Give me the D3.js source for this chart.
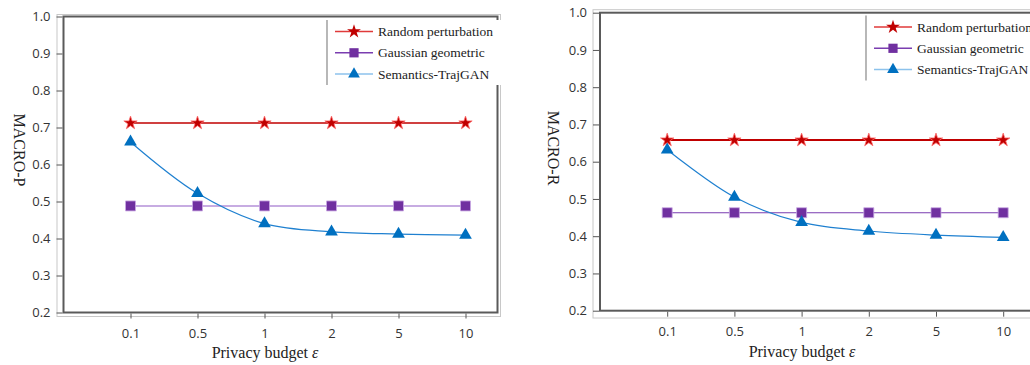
<!DOCTYPE html>
<html>
<head>
<meta charset="utf-8">
<script src="https://cdn.jsdelivr.net/npm/d3@7"></script>
<style>
  body { margin: 0; background: #fff; }
  .tick text { font-family: "Open Sans", "Noto Sans", sans-serif; font-size: 13px; fill: #333; }
</style>
</head>
<body>
<div id="chart"></div>
<script>
// categories (privacy budget)
const budgets = ["0.1", "0.5", "1", "2", "5", "10"];
const yTicks = [0.2, 0.3, 0.4, 0.5, 0.6, 0.7, 0.8, 0.9, 1.0];
const seriesNames = ["Random perturbation", "Gaussian geometric", "Semantics-TrajGAN"];

// MACRO-P values
const macroP_random = [0.712, 0.712, 0.712, 0.712, 0.712, 0.712];
const macroP_gauss = [0.488, 0.488, 0.488, 0.488, 0.488, 0.488];
const macroP_sem = [0.661, 0.522, 0.440, 0.418, 0.412, 0.409];

// MACRO-R values
const macroR_random = [0.658, 0.658, 0.658, 0.658, 0.658, 0.658];
const macroR_gauss = [0.463, 0.463, 0.463, 0.463, 0.463, 0.463];
const macroR_sem = [0.632, 0.505, 0.437, 0.414, 0.403, 0.397];

const svg = d3.select("#chart").append("svg")
    .attr("width", 1030)
    .attr("height", 365);

const markerStyle = [
    { sym: d3.symbolStar, size: 55, fill: "#c00000", stroke: "#ff6b6b" },
    { sym: d3.symbolSquare, size: 100, fill: "#7030a0", stroke: "#c9a9e3" },
    { sym: d3.symbolTriangle, size: 70, fill: "#0070c0", stroke: "none" }
];

function drawPanel(p) {
    const g = svg.append("g");

    // outer light frame
    g.append("rect")
        .attr("x", p.outer[0]).attr("y", p.outer[1])
        .attr("width", p.outer[2] - p.outer[0]).attr("height", p.outer[3] - p.outer[1])
        .attr("fill", "none").attr("stroke", "#c8c8c8").attr("stroke-width", 1);

    const x = d3.scaleLinear().domain([-1, 5]).range([p.x0, p.x0 + 6 * p.step]);
    const y = d3.scaleLinear().domain([0.2, 1.0]).range([p.y1, p.y0]);

    // inner dark box
    g.append("rect")
        .attr("x", p.x0).attr("y", p.y0)
        .attr("width", p.x1 - p.x0).attr("height", p.y1 - p.y0)
        .attr("fill", "none").attr("stroke", "#5a5a5a").attr("stroke-width", 2);

    // y axis
    g.append("g")
        .attr("transform", "translate(" + (p.x0 - 1) + ",0)")
        .call(d3.axisLeft(y).tickValues(yTicks).tickFormat(d3.format(".1f")).tickSize(6).tickPadding(6))
        .call(a => a.select(".domain").remove())
        .call(a => a.selectAll(".tick line").attr("stroke", "#555"));

    // x axis
    g.append("g")
        .attr("transform", "translate(0," + (p.y1 + 1) + ")")
        .call(d3.axisBottom(x).tickValues(d3.range(budgets.length)).tickFormat(i => budgets[i]).tickSize(5).tickPadding(10))
        .call(a => a.select(".domain").remove())
        .call(a => a.selectAll(".tick line").attr("stroke", "#555"));

    // axis titles
    const xt = g.append("text")
        .attr("x", p.xTitle[0]).attr("y", p.xTitle[1])
        .attr("text-anchor", "middle")
        .style("font-family", "'Liberation Serif', 'Times New Roman', serif")
        .style("font-size", "16px").style("fill", "#222");
    xt.append("tspan").text("Privacy budget ");
    xt.append("tspan").style("font-style", "italic").text("ε");

    g.append("text")
        .attr("transform", "translate(" + p.yTitle[0] + "," + p.yTitle[1] + ") rotate(90)")
        .attr("text-anchor", "middle")
        .style("font-family", "'Liberation Serif', 'Times New Roman', serif")
        .style("font-size", "16px").style("fill", "#222")
        .text(p.yLabel);

    const line = d3.line().x((d, i) => x(i)).y(d => y(d));
    const curve = d3.line().x((d, i) => x(i)).y(d => y(d)).curve(d3.curveCatmullRom.alpha(0.5));

    const lineColors = p.lineColors;
    const lineWidths = p.lineWidths;
    p.series.forEach((vals, s) => {
        g.append("path")
            .datum(vals)
            .attr("fill", "none")
            .attr("stroke", lineColors[s])
            .attr("stroke-width", lineWidths[s])
            .attr("d", s === 2 ? curve : line);
    });
    p.series.forEach((vals, s) => {
        const m = markerStyle[s];
        g.selectAll(".m" + s)
            .data(vals)
            .enter().append("path")
            .attr("transform", (d, i) => "translate(" + x(i) + "," + y(d) + ")")
            .attr("d", d3.symbol().type(m.sym).size(m.size))
            .attr("fill", m.fill)
            .attr("stroke", m.stroke)
            .attr("stroke-width", 0.8);
    });

    // legend
    const lg = g.append("g").attr("transform", "translate(" + p.legend[0] + "," + p.legend[1] + ")");
    lg.append("rect")
        .attr("x", 0).attr("y", 0).attr("width", 200).attr("height", 65)
        .attr("fill", "#fff");
    lg.append("line")
        .attr("x1", 0).attr("x2", 0).attr("y1", 0).attr("y2", 65)
        .attr("stroke", "#888").attr("stroke-width", 1.2);
    const legendLine = ["#e03a3a", "#7a3db0", "#8cc2ec"];
    const legendSize = [60, 85, 60];
    seriesNames.forEach((name, s) => {
        const ry = 11.5 + s * 21.3;
        lg.append("line")
            .attr("x1", 8).attr("x2", 46).attr("y1", ry).attr("y2", ry)
            .attr("stroke", legendLine[s]).attr("stroke-width", 1.5);
        lg.append("path")
            .attr("transform", "translate(27," + ry + ")")
            .attr("d", d3.symbol().type(markerStyle[s].sym).size(legendSize[s]))
            .attr("fill", markerStyle[s].fill);
        lg.append("text")
            .attr("x", 51).attr("y", ry + 4.5)
            .style("font-family", "'Liberation Serif', 'Times New Roman', serif")
            .style("font-size", "13.5px").style("fill", "#222")
            .text(name);
    });
}

drawPanel({
    x0: 63.5, x1: 497.5, y0: 16.5, y1: 312.5, step: 67,
    outer: [57, 14.5, 500.5, 316.5],
    xTitle: [265, 358], yTitle: [14, 150], yLabel: "MACRO-P",
    series: [macroP_random, macroP_gauss, macroP_sem],
    lineColors: ["#c00000", "#b590d9", "#1f80d0"],
    lineWidths: [1.5, 1.5, 1.2],
    legend: [327, 20]
});

drawPanel({
    x0: 600, x1: 1100, y0: 12.7, y1: 310.7, step: 67.2,
    outer: [593, 9.7, 1110, 318],
    xTitle: [802, 357], yTitle: [548, 148], yLabel: "MACRO-R",
    series: [macroR_random, macroR_gauss, macroR_sem],
    lineColors: ["#c00000", "#7a3db0", "#1f80d0"],
    lineWidths: [2, 1.2, 1.2],
    legend: [866, 15.5]
});
</script>
</body>
</html>
